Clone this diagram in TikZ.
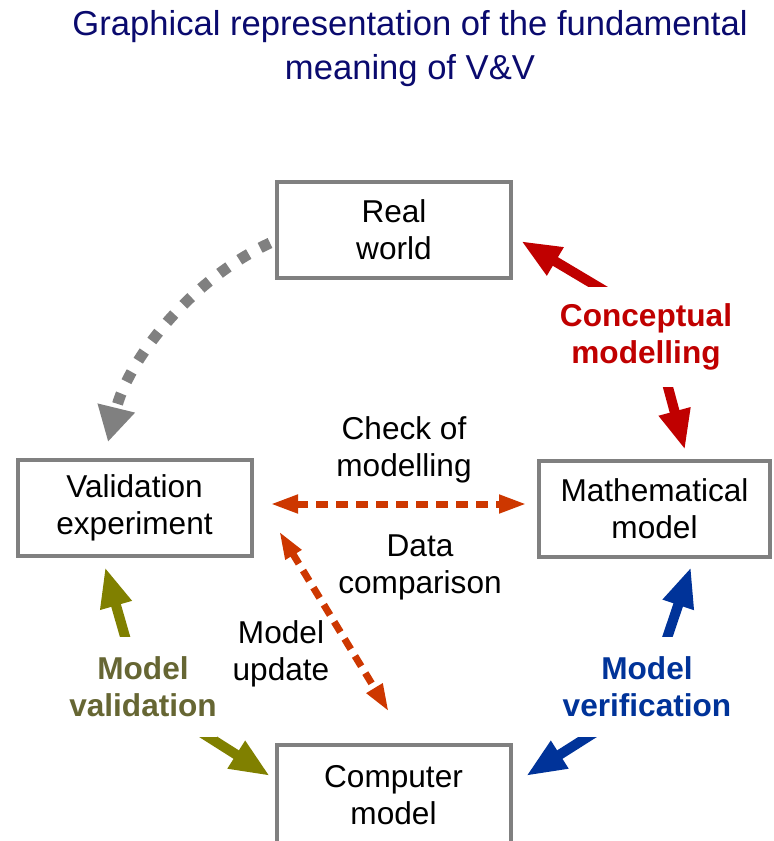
\documentclass[tikz,border=0pt]{standalone}
\usepackage{fontspec}
\setmainfont{Liberation Sans}
\usetikzlibrary{arrows.meta,positioning}

\definecolor{titleblue}{RGB}{10,10,110}
\definecolor{boxgray}{RGB}{128,128,128}
\definecolor{conceptred}{RGB}{192,0,0}
\definecolor{valolive}{RGB}{128,128,0}
\definecolor{valtext}{RGB}{102,102,51}
\definecolor{verblue}{RGB}{0,51,153}
\definecolor{dataorange}{RGB}{205,55,0}

\begin{document}
\begin{tikzpicture}[x=0.5pt, y=-0.5pt,
    block/.style={rectangle, draw=boxgray, line width=2pt, fill=white, minimum width=117pt, minimum height=48pt, inner sep=0pt, align=center, font=\fontsize{15.8}{18.5}\selectfont},
    lbl/.style={align=center, inner sep=0pt, font=\fontsize{15.8}{18.5}\selectfont},
    boldlbl/.style={lbl, fill=white, minimum height=50pt, font=\fontsize{15.8}{18.5}\selectfont\bfseries},
    fatarrow/.style={line width=5pt, -{Triangle[length=20pt,width=15pt]}},
    dataarrow/.style={draw=dataorange, line width=3.5pt, dash pattern=on 6pt off 4pt, {Triangle[length=14pt,width=8.5pt]}-{Triangle[length=14pt,width=8.5pt]}},
    realarrow/.style={draw=boxgray, line width=5.5pt, dash pattern=on 5.5pt off 6.5pt, -{Triangle[length=17.5pt,width=18pt]}}
]
\clip (0,0) rectangle (773,841);

% Title
\node[lbl, text=titleblue, font=\fontsize{17.3}{22}\selectfont] (title) at (410,49) {Graphical representation of the fundamental\\meaning of V\&V};

% Boxes
\node[block] (real) at (394,229.5) {Real\\world};
\node[block] (valexp) at (134.5,508) {Validation\\experiment};
\node[block, minimum width=115.5pt] (math) at (654.5,508.5) {Mathematical\\model};
\node[block, minimum height=50pt] (comp) at (393.5,795) {Computer\\model};

% Arrow ends
\coordinate (g0) at (270,243);
\coordinate (g1) at (108,442);
\coordinate (c0) at (615,297);
\coordinate (c1) at (521,241);
\coordinate (c2) at (665,376);
\coordinate (c3) at (685,450);
\coordinate (v0) at (128,647);
\coordinate (v1) at (105,567);
\coordinate (v2) at (199,731);
\coordinate (v3) at (270,776);
\coordinate (m0) at (664,647);
\coordinate (m1) at (691,567);
\coordinate (m2) at (597,731);
\coordinate (m3) at (526,776);
\coordinate (d0) at (270,504);
\coordinate (d1) at (527,504);
\coordinate (d2) at (279,531);
\coordinate (d3) at (389,712);

% Arrows
\draw[realarrow] (g0) .. controls (190,280) and (128,360) .. (g1);
\draw[fatarrow, draw=conceptred] (c0) -- (c1);
\draw[fatarrow, draw=conceptred] (c2) -- (c3);
\draw[fatarrow, draw=valolive] (v0) -- (v1);
\draw[fatarrow, draw=valolive] (v2) -- (v3);
\draw[fatarrow, draw=verblue] (m0) -- (m1);
\draw[fatarrow, draw=verblue] (m2) -- (m3);
\draw[dataarrow] (d0) -- (d1);
\draw[dataarrow] (d2) -- (d3);

% Labels
\node[lbl] (check) at (404,450) {Check of\\modelling};
\node[lbl] (datacomp) at (420,567) {Data\\comparison};
\node[lbl] (update) at (281,654) {Model\\update};
\node[boldlbl, text=conceptred] (concept) at (646,336.5) {Conceptual\\modelling};
\node[boldlbl, text=valtext] (validation) at (143,687) {Model\\validation};
\node[boldlbl, text=verblue] (verification) at (647,687) {Model\\verification};

\end{tikzpicture}
\end{document}
